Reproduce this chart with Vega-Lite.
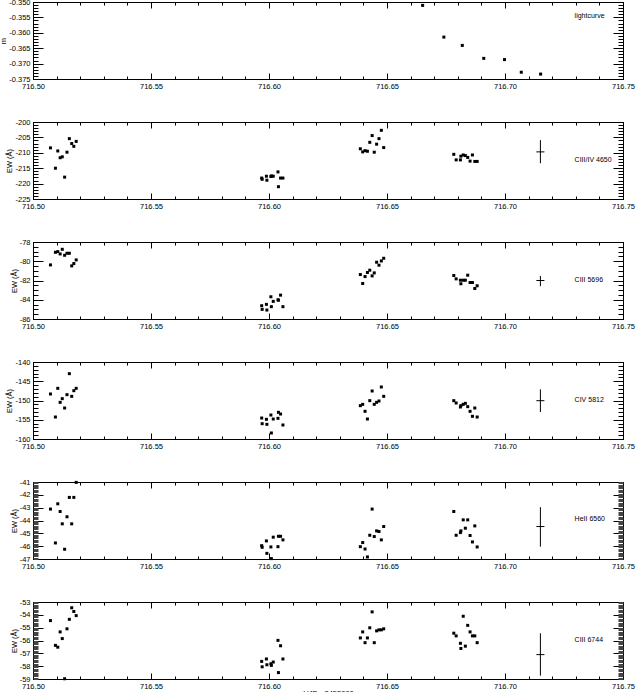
{
"$schema": "https://vega.github.io/schema/vega-lite/v6.json",
"background": "white",
"padding": {"left": -1, "top": -3, "right": 0, "bottom": 0},
"spacing": 43,
"bounds": "flush",
"datasets": {
"pts": [
{"p":1,"t":716.6651,"v":-0.3511},{"p":1,"t":716.6741,"v":-0.3614},{"p":1,"t":716.6819,"v":-0.3641},{"p":1,"t":716.6910,"v":-0.3683},{"p":1,"t":716.6998,"v":-0.3687},{"p":1,"t":716.7069,"v":-0.3728},{"p":1,"t":716.7151,"v":-0.3734},
{"p":2,"t":716.5074,"v":-208.4},{"p":2,"t":716.5095,"v":-215.0},{"p":2,"t":716.5105,"v":-209.4},{"p":2,"t":716.5115,"v":-211.6},{"p":2,"t":716.5124,"v":-211.3},{"p":2,"t":716.5134,"v":-217.9},{"p":2,"t":716.5144,"v":-209.8},{"p":2,"t":716.5154,"v":-205.4},{"p":2,"t":716.5164,"v":-207.0},{"p":2,"t":716.5173,"v":-207.9},{"p":2,"t":716.5183,"v":-206.3},
{"p":2,"t":716.5969,"v":-218.2},{"p":2,"t":716.5971,"v":-218.6},{"p":2,"t":716.5989,"v":-217.6},{"p":2,"t":716.5991,"v":-218.9},{"p":2,"t":716.6008,"v":-217.7},{"p":2,"t":716.6010,"v":-217.5},{"p":2,"t":716.6018,"v":-217.6},{"p":2,"t":716.6038,"v":-216.2},{"p":2,"t":716.6040,"v":-221.0},{"p":2,"t":716.6049,"v":-218.2},{"p":2,"t":716.6059,"v":-218.2},
{"p":2,"t":716.6387,"v":-208.7},{"p":2,"t":716.6397,"v":-209.7},{"p":2,"t":716.6407,"v":-209.3},{"p":2,"t":716.6417,"v":-209.5},{"p":2,"t":716.6427,"v":-206.6},{"p":2,"t":716.6437,"v":-204.4},{"p":2,"t":716.6446,"v":-209.8},{"p":2,"t":716.6456,"v":-207.2},{"p":2,"t":716.6466,"v":-205.4},{"p":2,"t":716.6476,"v":-202.7},{"p":2,"t":716.6486,"v":-208.3},
{"p":2,"t":716.6783,"v":-210.5},{"p":2,"t":716.6793,"v":-212.3},{"p":2,"t":716.6811,"v":-212.3},{"p":2,"t":716.6813,"v":-211.1},{"p":2,"t":716.6823,"v":-210.7},{"p":2,"t":716.6832,"v":-210.9},{"p":2,"t":716.6842,"v":-211.5},{"p":2,"t":716.6852,"v":-212.7},{"p":2,"t":716.6862,"v":-210.7},{"p":2,"t":716.6872,"v":-212.8},{"p":2,"t":716.6882,"v":-212.8},
{"p":3,"t":716.5074,"v":-80.38},{"p":3,"t":716.5095,"v":-79.07},{"p":3,"t":716.5105,"v":-79.0},{"p":3,"t":716.5115,"v":-79.24},{"p":3,"t":716.5124,"v":-78.76},{"p":3,"t":716.5134,"v":-79.38},{"p":3,"t":716.5144,"v":-79.17},{"p":3,"t":716.5154,"v":-79.17},{"p":3,"t":716.5164,"v":-80.48},{"p":3,"t":716.5173,"v":-80.24},{"p":3,"t":716.5183,"v":-79.86},
{"p":3,"t":716.5969,"v":-84.62},{"p":3,"t":716.5971,"v":-85.0},{"p":3,"t":716.5989,"v":-84.48},{"p":3,"t":716.5991,"v":-85.07},{"p":3,"t":716.6008,"v":-83.69},{"p":3,"t":716.6010,"v":-84.72},{"p":3,"t":716.6018,"v":-84.17},{"p":3,"t":716.6038,"v":-84.0},{"p":3,"t":716.6040,"v":-84.05},{"p":3,"t":716.6049,"v":-83.52},{"p":3,"t":716.6059,"v":-84.72},
{"p":3,"t":716.6387,"v":-81.38},{"p":3,"t":716.6397,"v":-82.31},{"p":3,"t":716.6407,"v":-81.59},{"p":3,"t":716.6417,"v":-81.17},{"p":3,"t":716.6427,"v":-80.93},{"p":3,"t":716.6437,"v":-81.52},{"p":3,"t":716.6446,"v":-81.21},{"p":3,"t":716.6456,"v":-80.10},{"p":3,"t":716.6466,"v":-80.41},{"p":3,"t":716.6476,"v":-79.97},{"p":3,"t":716.6486,"v":-79.69},
{"p":3,"t":716.6783,"v":-81.48},{"p":3,"t":716.6793,"v":-81.83},{"p":3,"t":716.6811,"v":-81.97},{"p":3,"t":716.6813,"v":-82.34},{"p":3,"t":716.6823,"v":-81.97},{"p":3,"t":716.6832,"v":-81.97},{"p":3,"t":716.6842,"v":-81.45},{"p":3,"t":716.6852,"v":-82.21},{"p":3,"t":716.6862,"v":-82.21},{"p":3,"t":716.6872,"v":-82.83},{"p":3,"t":716.6882,"v":-82.55},
{"p":4,"t":716.5074,"v":-148.31},{"p":4,"t":716.5095,"v":-154.29},{"p":4,"t":716.5105,"v":-146.84},{"p":4,"t":716.5115,"v":-150.48},{"p":4,"t":716.5124,"v":-149.52},{"p":4,"t":716.5134,"v":-151.95},{"p":4,"t":716.5144,"v":-148.48},{"p":4,"t":716.5154,"v":-143.03},{"p":4,"t":716.5164,"v":-148.92},{"p":4,"t":716.5173,"v":-147.45},{"p":4,"t":716.5183,"v":-146.84},
{"p":4,"t":716.5969,"v":-154.55},{"p":4,"t":716.5971,"v":-156.02},{"p":4,"t":716.5989,"v":-154.89},{"p":4,"t":716.5991,"v":-156.19},{"p":4,"t":716.6008,"v":-153.77},{"p":4,"t":716.6010,"v":-158.44},{"p":4,"t":716.6018,"v":-154.81},{"p":4,"t":716.6038,"v":-154.63},{"p":4,"t":716.6040,"v":-153.07},{"p":4,"t":716.6049,"v":-153.51},{"p":4,"t":716.6059,"v":-156.36},
{"p":4,"t":716.6387,"v":-151.34},{"p":4,"t":716.6397,"v":-151.0},{"p":4,"t":716.6407,"v":-152.81},{"p":4,"t":716.6417,"v":-154.81},{"p":4,"t":716.6427,"v":-150.04},{"p":4,"t":716.6437,"v":-147.53},{"p":4,"t":716.6446,"v":-151.0},{"p":4,"t":716.6456,"v":-150.48},{"p":4,"t":716.6466,"v":-150.13},{"p":4,"t":716.6476,"v":-146.49},{"p":4,"t":716.6486,"v":-148.92},
{"p":4,"t":716.6783,"v":-150.04},{"p":4,"t":716.6793,"v":-150.65},{"p":4,"t":716.6811,"v":-151.69},{"p":4,"t":716.6813,"v":-151.34},{"p":4,"t":716.6823,"v":-151.0},{"p":4,"t":716.6832,"v":-150.74},{"p":4,"t":716.6842,"v":-151.6},{"p":4,"t":716.6852,"v":-152.81},{"p":4,"t":716.6862,"v":-154.11},{"p":4,"t":716.6872,"v":-151.95},{"p":4,"t":716.6882,"v":-154.29},
{"p":5,"t":716.5074,"v":-43.11},{"p":5,"t":716.5095,"v":-45.75},{"p":5,"t":716.5105,"v":-42.70},{"p":5,"t":716.5115,"v":-43.30},{"p":5,"t":716.5124,"v":-44.26},{"p":5,"t":716.5134,"v":-46.24},{"p":5,"t":716.5144,"v":-43.71},{"p":5,"t":716.5154,"v":-42.20},{"p":5,"t":716.5164,"v":-44.26},{"p":5,"t":716.5173,"v":-42.20},{"p":5,"t":716.5183,"v":-41.03},
{"p":5,"t":716.5969,"v":-45.96},{"p":5,"t":716.5971,"v":-46.09},{"p":5,"t":716.5989,"v":-45.59},{"p":5,"t":716.5991,"v":-46.56},{"p":5,"t":716.6008,"v":-46.06},{"p":5,"t":716.6010,"v":-46.97},{"p":5,"t":716.6018,"v":-45.30},{"p":5,"t":716.6038,"v":-46.04},{"p":5,"t":716.6040,"v":-45.23},{"p":5,"t":716.6049,"v":-45.23},{"p":5,"t":716.6059,"v":-45.51},
{"p":5,"t":716.6387,"v":-46.04},{"p":5,"t":716.6397,"v":-45.72},{"p":5,"t":716.6407,"v":-46.22},{"p":5,"t":716.6417,"v":-46.84},{"p":5,"t":716.6427,"v":-45.15},{"p":5,"t":716.6437,"v":-43.11},{"p":5,"t":716.6446,"v":-45.25},{"p":5,"t":716.6456,"v":-44.81},{"p":5,"t":716.6466,"v":-44.86},{"p":5,"t":716.6476,"v":-45.51},{"p":5,"t":716.6486,"v":-44.47},
{"p":5,"t":716.6783,"v":-43.30},{"p":5,"t":716.6793,"v":-45.15},{"p":5,"t":716.6811,"v":-44.94},{"p":5,"t":716.6813,"v":-44.81},{"p":5,"t":716.6823,"v":-43.95},{"p":5,"t":716.6832,"v":-44.60},{"p":5,"t":716.6842,"v":-43.95},{"p":5,"t":716.6852,"v":-45.17},{"p":5,"t":716.6862,"v":-45.67},{"p":5,"t":716.6872,"v":-44.42},{"p":5,"t":716.6882,"v":-46.06},
{"p":6,"t":716.5074,"v":-54.45},{"p":6,"t":716.5095,"v":-56.38},{"p":6,"t":716.5105,"v":-56.52},{"p":6,"t":716.5115,"v":-55.33},{"p":6,"t":716.5124,"v":-55.85},{"p":6,"t":716.5134,"v":-58.98},{"p":6,"t":716.5144,"v":-55.09},{"p":6,"t":716.5154,"v":-54.35},{"p":6,"t":716.5164,"v":-53.45},{"p":6,"t":716.5173,"v":-53.74},{"p":6,"t":716.5183,"v":-54.06},
{"p":6,"t":716.5969,"v":-57.63},{"p":6,"t":716.5971,"v":-58.05},{"p":6,"t":716.5989,"v":-57.44},{"p":6,"t":716.5991,"v":-57.89},{"p":6,"t":716.6008,"v":-57.81},{"p":6,"t":716.6010,"v":-57.94},{"p":6,"t":716.6018,"v":-57.68},{"p":6,"t":716.6038,"v":-55.99},{"p":6,"t":716.6040,"v":-58.50},{"p":6,"t":716.6049,"v":-56.41},{"p":6,"t":716.6059,"v":-57.44},
{"p":6,"t":716.6387,"v":-55.80},{"p":6,"t":716.6397,"v":-55.33},{"p":6,"t":716.6407,"v":-56.17},{"p":6,"t":716.6417,"v":-55.80},{"p":6,"t":716.6427,"v":-55.01},{"p":6,"t":716.6437,"v":-53.77},{"p":6,"t":716.6446,"v":-56.17},{"p":6,"t":716.6456,"v":-55.25},{"p":6,"t":716.6466,"v":-55.17},{"p":6,"t":716.6476,"v":-55.17},{"p":6,"t":716.6486,"v":-55.09},
{"p":6,"t":716.6783,"v":-55.43},{"p":6,"t":716.6793,"v":-55.64},{"p":6,"t":716.6811,"v":-56.22},{"p":6,"t":716.6813,"v":-56.62},{"p":6,"t":716.6823,"v":-54.11},{"p":6,"t":716.6832,"v":-56.44},{"p":6,"t":716.6842,"v":-54.82},{"p":6,"t":716.6852,"v":-55.33},{"p":6,"t":716.6862,"v":-55.64},{"p":6,"t":716.6872,"v":-55.64},{"p":6,"t":716.6882,"v":-56.17}
],
"err": [
{"p":2,"t":716.715,"v":-209.7,"lo":-213.4,"hi":-205.9,"tlo":716.7133,"thi":716.7167},
{"p":3,"t":716.715,"v":-82.0,"lo":-82.59,"hi":-81.52,"tlo":716.7133,"thi":716.7167},
{"p":4,"t":716.715,"v":-150.05,"lo":-153.0,"hi":-147.1,"tlo":716.7133,"thi":716.7167},
{"p":5,"t":716.715,"v":-44.47,"lo":-46.04,"hi":-42.96,"tlo":716.7133,"thi":716.7167},
{"p":6,"t":716.715,"v":-57.1,"lo":-58.74,"hi":-55.44,"tlo":716.7133,"thi":716.7167}
],
"lab": [
{"p":1,"t":716.7295,"v":-0.3545,"s":"lightcurve"},
{"p":2,"t":716.7295,"v":-212.2,"s":"CIII/IV 4650"},
{"p":3,"t":716.7295,"v":-81.96,"s":"CIII 5696"},
{"p":4,"t":716.7295,"v":-149.8,"s":"CIV 5812"},
{"p":5,"t":716.7295,"v":-43.9,"s":"HeII 6560"},
{"p":6,"t":716.7295,"v":-55.96,"s":"CIII 6744"}
]
},
"vconcat": [
{"width":590,"height":77,"resolve":{"axis":{"x":"independent","y":"independent"}},"layer":[
{"data":{"name":"pts"},"transform":[{"filter":"datum.p == 1"}],"mark":{"type":"square","size":9,"color":"black","filled":true,"opacity":1},
"encoding":{"x":{"field":"t","type":"quantitative","scale":{"domain":[716.5,716.75],"nice":false,"zero":false},"axis":{"orient":"bottom","values":[716.5,716.55,716.6,716.65,716.7,716.75],"format":".2f","tickSize":-6,"labelPadding":9,"title":null,"labelFlush":false,"labelOverlap":false}},
"y":{"field":"v","type":"quantitative","scale":{"domain":[-0.375,-0.35],"nice":false,"zero":false},"axis":{"orient":"left","values":[-0.375,-0.37,-0.365,-0.36,-0.355,-0.35],"format":".3f","tickSize":-10,"labelPadding":13,"title":"m","titlePadding":1,"labelOverlap":false}}}},
{"data":{"name":"err"},"transform":[{"filter":"datum.p == 1"}],"mark":{"type":"rule","color":"black","strokeWidth":1},
"encoding":{"x":{"field":"t","type":"quantitative","scale":{"domain":[716.5,716.75],"nice":false,"zero":false},"axis":{"orient":"top","values":[716.5,716.55,716.6,716.65,716.7,716.75],"labels":false,"tickSize":-6,"title":null}},
"y":{"field":"lo","type":"quantitative","scale":{"domain":[-0.375,-0.35],"nice":false,"zero":false},"axis":{"orient":"right","values":[-0.375,-0.37,-0.365,-0.36,-0.355,-0.35],"labels":false,"tickSize":-10,"title":null}},"y2":{"field":"hi"}}},
{"data":{"name":"err"},"transform":[{"filter":"datum.p == 1"}],"mark":{"type":"rule","color":"black","strokeWidth":1},
"encoding":{"x":{"field":"tlo","type":"quantitative","scale":{"domain":[716.5,716.75],"nice":false,"zero":false},"axis":{"orient":"bottom","values":[716.5,716.51,716.52,716.53,716.54,716.55,716.56,716.57,716.58,716.59,716.6,716.61,716.62,716.63,716.64,716.65,716.66,716.67,716.68,716.69,716.7,716.71,716.72,716.73,716.74,716.75],"labels":false,"domain":false,"tickSize":-3,"title":null}},"x2":{"field":"thi"},
"y":{"field":"v","type":"quantitative","scale":{"domain":[-0.375,-0.35],"nice":false,"zero":false},"axis":{"orient":"left","values":[-0.375,-0.374,-0.373,-0.372,-0.371,-0.37,-0.369,-0.368,-0.367,-0.366,-0.365,-0.364,-0.363,-0.362,-0.361,-0.36,-0.359,-0.358,-0.357,-0.356,-0.355,-0.354,-0.353,-0.352,-0.351,-0.35],"labels":false,"domain":false,"tickSize":-5,"title":null}}}},
{"data":{"name":"lab"},"transform":[{"filter":"datum.p == 1"}],"mark":{"type":"text","align":"left","baseline":"middle","fontSize":7,"font":"Liberation Sans","color":"black"},
"encoding":{"text":{"field":"s"},"x":{"field":"t","type":"quantitative","scale":{"domain":[716.5,716.75],"nice":false,"zero":false},"axis":{"orient":"top","values":[716.5,716.51,716.52,716.53,716.54,716.55,716.56,716.57,716.58,716.59,716.6,716.61,716.62,716.63,716.64,716.65,716.66,716.67,716.68,716.69,716.7,716.71,716.72,716.73,716.74,716.75],"labels":false,"domain":false,"tickSize":-3,"title":null}},
"y":{"field":"v","type":"quantitative","scale":{"domain":[-0.375,-0.35],"nice":false,"zero":false},"axis":{"orient":"right","values":[-0.375,-0.374,-0.373,-0.372,-0.371,-0.37,-0.369,-0.368,-0.367,-0.366,-0.365,-0.364,-0.363,-0.362,-0.361,-0.36,-0.359,-0.358,-0.357,-0.356,-0.355,-0.354,-0.353,-0.352,-0.351,-0.35],"labels":false,"domain":false,"tickSize":-5,"title":null}}}}
]},
{"width":590,"height":77,"resolve":{"axis":{"x":"independent","y":"independent"}},"layer":[
{"data":{"name":"pts"},"transform":[{"filter":"datum.p == 2"}],"mark":{"type":"square","size":9,"color":"black","filled":true,"opacity":1},
"encoding":{"x":{"field":"t","type":"quantitative","scale":{"domain":[716.5,716.75],"nice":false,"zero":false},"axis":{"orient":"bottom","values":[716.5,716.55,716.6,716.65,716.7,716.75],"format":".2f","tickSize":-6,"labelPadding":9,"title":null,"labelFlush":false,"labelOverlap":false}},
"y":{"field":"v","type":"quantitative","scale":{"domain":[-225,-200],"nice":false,"zero":false},"axis":{"orient":"left","values":[-225,-220,-215,-210,-205,-200],"format":"d","tickSize":-10,"labelPadding":13,"title":"EW (Å)","titlePadding":1,"labelOverlap":false}}}},
{"data":{"name":"err"},"transform":[{"filter":"datum.p == 2"}],"mark":{"type":"rule","color":"black","strokeWidth":1},
"encoding":{"x":{"field":"t","type":"quantitative","scale":{"domain":[716.5,716.75],"nice":false,"zero":false},"axis":{"orient":"top","values":[716.5,716.55,716.6,716.65,716.7,716.75],"labels":false,"tickSize":-6,"title":null}},
"y":{"field":"lo","type":"quantitative","scale":{"domain":[-225,-200],"nice":false,"zero":false},"axis":{"orient":"right","values":[-225,-220,-215,-210,-205,-200],"labels":false,"tickSize":-10,"title":null}},"y2":{"field":"hi"}}},
{"data":{"name":"err"},"transform":[{"filter":"datum.p == 2"}],"mark":{"type":"rule","color":"black","strokeWidth":1},
"encoding":{"x":{"field":"tlo","type":"quantitative","scale":{"domain":[716.5,716.75],"nice":false,"zero":false},"axis":{"orient":"bottom","values":[716.5,716.51,716.52,716.53,716.54,716.55,716.56,716.57,716.58,716.59,716.6,716.61,716.62,716.63,716.64,716.65,716.66,716.67,716.68,716.69,716.7,716.71,716.72,716.73,716.74,716.75],"labels":false,"domain":false,"tickSize":-3,"title":null}},"x2":{"field":"thi"},
"y":{"field":"v","type":"quantitative","scale":{"domain":[-225,-200],"nice":false,"zero":false},"axis":{"orient":"left","values":[-225,-224,-223,-222,-221,-220,-219,-218,-217,-216,-215,-214,-213,-212,-211,-210,-209,-208,-207,-206,-205,-204,-203,-202,-201,-200],"labels":false,"domain":false,"tickSize":-5,"title":null}}}},
{"data":{"name":"lab"},"transform":[{"filter":"datum.p == 2"}],"mark":{"type":"text","align":"left","baseline":"middle","fontSize":7,"font":"Liberation Sans","color":"black"},
"encoding":{"text":{"field":"s"},"x":{"field":"t","type":"quantitative","scale":{"domain":[716.5,716.75],"nice":false,"zero":false},"axis":{"orient":"top","values":[716.5,716.51,716.52,716.53,716.54,716.55,716.56,716.57,716.58,716.59,716.6,716.61,716.62,716.63,716.64,716.65,716.66,716.67,716.68,716.69,716.7,716.71,716.72,716.73,716.74,716.75],"labels":false,"domain":false,"tickSize":-3,"title":null}},
"y":{"field":"v","type":"quantitative","scale":{"domain":[-225,-200],"nice":false,"zero":false},"axis":{"orient":"right","values":[-225,-224,-223,-222,-221,-220,-219,-218,-217,-216,-215,-214,-213,-212,-211,-210,-209,-208,-207,-206,-205,-204,-203,-202,-201,-200],"labels":false,"domain":false,"tickSize":-5,"title":null}}}}
]},
{"width":590,"height":77,"resolve":{"axis":{"x":"independent","y":"independent"}},"layer":[
{"data":{"name":"pts"},"transform":[{"filter":"datum.p == 3"}],"mark":{"type":"square","size":9,"color":"black","filled":true,"opacity":1},
"encoding":{"x":{"field":"t","type":"quantitative","scale":{"domain":[716.5,716.75],"nice":false,"zero":false},"axis":{"orient":"bottom","values":[716.5,716.55,716.6,716.65,716.7,716.75],"format":".2f","tickSize":-6,"labelPadding":9,"title":null,"labelFlush":false,"labelOverlap":false}},
"y":{"field":"v","type":"quantitative","scale":{"domain":[-86,-78],"nice":false,"zero":false},"axis":{"orient":"left","values":[-86,-84,-82,-80,-78],"format":"d","tickSize":-10,"labelPadding":13,"title":"EW (Å)","titlePadding":1,"labelOverlap":false}}}},
{"data":{"name":"err"},"transform":[{"filter":"datum.p == 3"}],"mark":{"type":"rule","color":"black","strokeWidth":1},
"encoding":{"x":{"field":"t","type":"quantitative","scale":{"domain":[716.5,716.75],"nice":false,"zero":false},"axis":{"orient":"top","values":[716.5,716.55,716.6,716.65,716.7,716.75],"labels":false,"tickSize":-6,"title":null}},
"y":{"field":"lo","type":"quantitative","scale":{"domain":[-86,-78],"nice":false,"zero":false},"axis":{"orient":"right","values":[-86,-84,-82,-80,-78],"labels":false,"tickSize":-10,"title":null}},"y2":{"field":"hi"}}},
{"data":{"name":"err"},"transform":[{"filter":"datum.p == 3"}],"mark":{"type":"rule","color":"black","strokeWidth":1},
"encoding":{"x":{"field":"tlo","type":"quantitative","scale":{"domain":[716.5,716.75],"nice":false,"zero":false},"axis":{"orient":"bottom","values":[716.5,716.51,716.52,716.53,716.54,716.55,716.56,716.57,716.58,716.59,716.6,716.61,716.62,716.63,716.64,716.65,716.66,716.67,716.68,716.69,716.7,716.71,716.72,716.73,716.74,716.75],"labels":false,"domain":false,"tickSize":-3,"title":null}},"x2":{"field":"thi"},
"y":{"field":"v","type":"quantitative","scale":{"domain":[-86,-78],"nice":false,"zero":false},"axis":{"orient":"left","values":[-86,-85.5,-85,-84.5,-84,-83.5,-83,-82.5,-82,-81.5,-81,-80.5,-80,-79.5,-79,-78.5,-78],"labels":false,"domain":false,"tickSize":-5,"title":null}}}},
{"data":{"name":"lab"},"transform":[{"filter":"datum.p == 3"}],"mark":{"type":"text","align":"left","baseline":"middle","fontSize":7,"font":"Liberation Sans","color":"black"},
"encoding":{"text":{"field":"s"},"x":{"field":"t","type":"quantitative","scale":{"domain":[716.5,716.75],"nice":false,"zero":false},"axis":{"orient":"top","values":[716.5,716.51,716.52,716.53,716.54,716.55,716.56,716.57,716.58,716.59,716.6,716.61,716.62,716.63,716.64,716.65,716.66,716.67,716.68,716.69,716.7,716.71,716.72,716.73,716.74,716.75],"labels":false,"domain":false,"tickSize":-3,"title":null}},
"y":{"field":"v","type":"quantitative","scale":{"domain":[-86,-78],"nice":false,"zero":false},"axis":{"orient":"right","values":[-86,-85.5,-85,-84.5,-84,-83.5,-83,-82.5,-82,-81.5,-81,-80.5,-80,-79.5,-79,-78.5,-78],"labels":false,"domain":false,"tickSize":-5,"title":null}}}}
]},
{"width":590,"height":77,"resolve":{"axis":{"x":"independent","y":"independent"}},"layer":[
{"data":{"name":"pts"},"transform":[{"filter":"datum.p == 4"}],"mark":{"type":"square","size":9,"color":"black","filled":true,"opacity":1},
"encoding":{"x":{"field":"t","type":"quantitative","scale":{"domain":[716.5,716.75],"nice":false,"zero":false},"axis":{"orient":"bottom","values":[716.5,716.55,716.6,716.65,716.7,716.75],"format":".2f","tickSize":-6,"labelPadding":9,"title":null,"labelFlush":false,"labelOverlap":false}},
"y":{"field":"v","type":"quantitative","scale":{"domain":[-160,-140],"nice":false,"zero":false},"axis":{"orient":"left","values":[-160,-155,-150,-145,-140],"format":"d","tickSize":-10,"labelPadding":13,"title":"EW (Å)","titlePadding":1,"labelOverlap":false}}}},
{"data":{"name":"err"},"transform":[{"filter":"datum.p == 4"}],"mark":{"type":"rule","color":"black","strokeWidth":1},
"encoding":{"x":{"field":"t","type":"quantitative","scale":{"domain":[716.5,716.75],"nice":false,"zero":false},"axis":{"orient":"top","values":[716.5,716.55,716.6,716.65,716.7,716.75],"labels":false,"tickSize":-6,"title":null}},
"y":{"field":"lo","type":"quantitative","scale":{"domain":[-160,-140],"nice":false,"zero":false},"axis":{"orient":"right","values":[-160,-155,-150,-145,-140],"labels":false,"tickSize":-10,"title":null}},"y2":{"field":"hi"}}},
{"data":{"name":"err"},"transform":[{"filter":"datum.p == 4"}],"mark":{"type":"rule","color":"black","strokeWidth":1},
"encoding":{"x":{"field":"tlo","type":"quantitative","scale":{"domain":[716.5,716.75],"nice":false,"zero":false},"axis":{"orient":"bottom","values":[716.5,716.51,716.52,716.53,716.54,716.55,716.56,716.57,716.58,716.59,716.6,716.61,716.62,716.63,716.64,716.65,716.66,716.67,716.68,716.69,716.7,716.71,716.72,716.73,716.74,716.75],"labels":false,"domain":false,"tickSize":-3,"title":null}},"x2":{"field":"thi"},
"y":{"field":"v","type":"quantitative","scale":{"domain":[-160,-140],"nice":false,"zero":false},"axis":{"orient":"left","values":[-160,-159,-158,-157,-156,-155,-154,-153,-152,-151,-150,-149,-148,-147,-146,-145,-144,-143,-142,-141,-140],"labels":false,"domain":false,"tickSize":-5,"title":null}}}},
{"data":{"name":"lab"},"transform":[{"filter":"datum.p == 4"}],"mark":{"type":"text","align":"left","baseline":"middle","fontSize":7,"font":"Liberation Sans","color":"black"},
"encoding":{"text":{"field":"s"},"x":{"field":"t","type":"quantitative","scale":{"domain":[716.5,716.75],"nice":false,"zero":false},"axis":{"orient":"top","values":[716.5,716.51,716.52,716.53,716.54,716.55,716.56,716.57,716.58,716.59,716.6,716.61,716.62,716.63,716.64,716.65,716.66,716.67,716.68,716.69,716.7,716.71,716.72,716.73,716.74,716.75],"labels":false,"domain":false,"tickSize":-3,"title":null}},
"y":{"field":"v","type":"quantitative","scale":{"domain":[-160,-140],"nice":false,"zero":false},"axis":{"orient":"right","values":[-160,-159,-158,-157,-156,-155,-154,-153,-152,-151,-150,-149,-148,-147,-146,-145,-144,-143,-142,-141,-140],"labels":false,"domain":false,"tickSize":-5,"title":null}}}}
]},
{"width":590,"height":77,"resolve":{"axis":{"x":"independent","y":"independent"}},"layer":[
{"data":{"name":"pts"},"transform":[{"filter":"datum.p == 5"}],"mark":{"type":"square","size":9,"color":"black","filled":true,"opacity":1},
"encoding":{"x":{"field":"t","type":"quantitative","scale":{"domain":[716.5,716.75],"nice":false,"zero":false},"axis":{"orient":"bottom","values":[716.5,716.55,716.6,716.65,716.7,716.75],"format":".2f","tickSize":-6,"labelPadding":9,"title":null,"labelFlush":false,"labelOverlap":false}},
"y":{"field":"v","type":"quantitative","scale":{"domain":[-47,-41],"nice":false,"zero":false},"axis":{"orient":"left","values":[-47,-46,-45,-44,-43,-42,-41],"format":"d","tickSize":-10,"labelPadding":13,"title":"EW (Å)","titlePadding":1,"labelOverlap":false}}}},
{"data":{"name":"err"},"transform":[{"filter":"datum.p == 5"}],"mark":{"type":"rule","color":"black","strokeWidth":1},
"encoding":{"x":{"field":"t","type":"quantitative","scale":{"domain":[716.5,716.75],"nice":false,"zero":false},"axis":{"orient":"top","values":[716.5,716.55,716.6,716.65,716.7,716.75],"labels":false,"tickSize":-6,"title":null}},
"y":{"field":"lo","type":"quantitative","scale":{"domain":[-47,-41],"nice":false,"zero":false},"axis":{"orient":"right","values":[-47,-46,-45,-44,-43,-42,-41],"labels":false,"tickSize":-10,"title":null}},"y2":{"field":"hi"}}},
{"data":{"name":"err"},"transform":[{"filter":"datum.p == 5"}],"mark":{"type":"rule","color":"black","strokeWidth":1},
"encoding":{"x":{"field":"tlo","type":"quantitative","scale":{"domain":[716.5,716.75],"nice":false,"zero":false},"axis":{"orient":"bottom","values":[716.5,716.51,716.52,716.53,716.54,716.55,716.56,716.57,716.58,716.59,716.6,716.61,716.62,716.63,716.64,716.65,716.66,716.67,716.68,716.69,716.7,716.71,716.72,716.73,716.74,716.75],"labels":false,"domain":false,"tickSize":-3,"title":null}},"x2":{"field":"thi"},
"y":{"field":"v","type":"quantitative","scale":{"domain":[-47,-41],"nice":false,"zero":false},"axis":{"orient":"left","values":[-47,-46.9,-46.8,-46.7,-46.6,-46.5,-46.4,-46.3,-46.2,-46.1,-46,-45.9,-45.8,-45.7,-45.6,-45.5,-45.4,-45.3,-45.2,-45.1,-45,-44.9,-44.8,-44.7,-44.6,-44.5,-44.4,-44.3,-44.2,-44.1,-44,-43.9,-43.8,-43.7,-43.6,-43.5,-43.4,-43.3,-43.2,-43.1,-43,-42.9,-42.8,-42.7,-42.6,-42.5,-42.4,-42.3,-42.2,-42.1,-42,-41.9,-41.8,-41.7,-41.6,-41.5,-41.4,-41.3,-41.2,-41.1,-41],"labels":false,"domain":false,"tickSize":-5,"tickColor":"#444444","title":null}}}},
{"data":{"name":"lab"},"transform":[{"filter":"datum.p == 5"}],"mark":{"type":"text","align":"left","baseline":"middle","fontSize":7,"font":"Liberation Sans","color":"black"},
"encoding":{"text":{"field":"s"},"x":{"field":"t","type":"quantitative","scale":{"domain":[716.5,716.75],"nice":false,"zero":false},"axis":{"orient":"top","values":[716.5,716.51,716.52,716.53,716.54,716.55,716.56,716.57,716.58,716.59,716.6,716.61,716.62,716.63,716.64,716.65,716.66,716.67,716.68,716.69,716.7,716.71,716.72,716.73,716.74,716.75],"labels":false,"domain":false,"tickSize":-3,"title":null}},
"y":{"field":"v","type":"quantitative","scale":{"domain":[-47,-41],"nice":false,"zero":false},"axis":{"orient":"right","values":[-47,-46.9,-46.8,-46.7,-46.6,-46.5,-46.4,-46.3,-46.2,-46.1,-46,-45.9,-45.8,-45.7,-45.6,-45.5,-45.4,-45.3,-45.2,-45.1,-45,-44.9,-44.8,-44.7,-44.6,-44.5,-44.4,-44.3,-44.2,-44.1,-44,-43.9,-43.8,-43.7,-43.6,-43.5,-43.4,-43.3,-43.2,-43.1,-43,-42.9,-42.8,-42.7,-42.6,-42.5,-42.4,-42.3,-42.2,-42.1,-42,-41.9,-41.8,-41.7,-41.6,-41.5,-41.4,-41.3,-41.2,-41.1,-41],"labels":false,"domain":false,"tickSize":-5,"tickColor":"#444444","title":null}}}}
]},
{"width":590,"height":77,"resolve":{"axis":{"x":"independent","y":"independent"}},"layer":[
{"data":{"name":"pts"},"transform":[{"filter":"datum.p == 6"}],"mark":{"type":"square","size":9,"color":"black","filled":true,"opacity":1},
"encoding":{"x":{"field":"t","type":"quantitative","scale":{"domain":[716.5,716.75],"nice":false,"zero":false},"axis":{"orient":"bottom","values":[716.5,716.55,716.6,716.65,716.7,716.75],"format":".2f","tickSize":-6,"labelPadding":9,"title":"HJD - 2452000","titlePadding":0,"labelFlush":false,"labelOverlap":false}},
"y":{"field":"v","type":"quantitative","scale":{"domain":[-59,-53],"nice":false,"zero":false},"axis":{"orient":"left","values":[-59,-58,-57,-56,-55,-54,-53],"format":"d","tickSize":-10,"labelPadding":13,"title":"EW (Å)","titlePadding":1,"labelOverlap":false}}}},
{"data":{"name":"err"},"transform":[{"filter":"datum.p == 6"}],"mark":{"type":"rule","color":"black","strokeWidth":1},
"encoding":{"x":{"field":"t","type":"quantitative","scale":{"domain":[716.5,716.75],"nice":false,"zero":false},"axis":{"orient":"top","values":[716.5,716.55,716.6,716.65,716.7,716.75],"labels":false,"tickSize":-6,"title":null}},
"y":{"field":"lo","type":"quantitative","scale":{"domain":[-59,-53],"nice":false,"zero":false},"axis":{"orient":"right","values":[-59,-58,-57,-56,-55,-54,-53],"labels":false,"tickSize":-10,"title":null}},"y2":{"field":"hi"}}},
{"data":{"name":"err"},"transform":[{"filter":"datum.p == 6"}],"mark":{"type":"rule","color":"black","strokeWidth":1},
"encoding":{"x":{"field":"tlo","type":"quantitative","scale":{"domain":[716.5,716.75],"nice":false,"zero":false},"axis":{"orient":"bottom","values":[716.5,716.51,716.52,716.53,716.54,716.55,716.56,716.57,716.58,716.59,716.6,716.61,716.62,716.63,716.64,716.65,716.66,716.67,716.68,716.69,716.7,716.71,716.72,716.73,716.74,716.75],"labels":false,"domain":false,"tickSize":-3,"title":null}},"x2":{"field":"thi"},
"y":{"field":"v","type":"quantitative","scale":{"domain":[-59,-53],"nice":false,"zero":false},"axis":{"orient":"left","values":[-59,-58.9,-58.8,-58.7,-58.6,-58.5,-58.4,-58.3,-58.2,-58.1,-58,-57.9,-57.8,-57.7,-57.6,-57.5,-57.4,-57.3,-57.2,-57.1,-57,-56.9,-56.8,-56.7,-56.6,-56.5,-56.4,-56.3,-56.2,-56.1,-56,-55.9,-55.8,-55.7,-55.6,-55.5,-55.4,-55.3,-55.2,-55.1,-55,-54.9,-54.8,-54.7,-54.6,-54.5,-54.4,-54.3,-54.2,-54.1,-54,-53.9,-53.8,-53.7,-53.6,-53.5,-53.4,-53.3,-53.2,-53.1,-53],"labels":false,"domain":false,"tickSize":-5,"tickColor":"#444444","title":null}}}},
{"data":{"name":"lab"},"transform":[{"filter":"datum.p == 6"}],"mark":{"type":"text","align":"left","baseline":"middle","fontSize":7,"font":"Liberation Sans","color":"black"},
"encoding":{"text":{"field":"s"},"x":{"field":"t","type":"quantitative","scale":{"domain":[716.5,716.75],"nice":false,"zero":false},"axis":{"orient":"top","values":[716.5,716.51,716.52,716.53,716.54,716.55,716.56,716.57,716.58,716.59,716.6,716.61,716.62,716.63,716.64,716.65,716.66,716.67,716.68,716.69,716.7,716.71,716.72,716.73,716.74,716.75],"labels":false,"domain":false,"tickSize":-3,"title":null}},
"y":{"field":"v","type":"quantitative","scale":{"domain":[-59,-53],"nice":false,"zero":false},"axis":{"orient":"right","values":[-59,-58.9,-58.8,-58.7,-58.6,-58.5,-58.4,-58.3,-58.2,-58.1,-58,-57.9,-57.8,-57.7,-57.6,-57.5,-57.4,-57.3,-57.2,-57.1,-57,-56.9,-56.8,-56.7,-56.6,-56.5,-56.4,-56.3,-56.2,-56.1,-56,-55.9,-55.8,-55.7,-55.6,-55.5,-55.4,-55.3,-55.2,-55.1,-55,-54.9,-54.8,-54.7,-54.6,-54.5,-54.4,-54.3,-54.2,-54.1,-54,-53.9,-53.8,-53.7,-53.6,-53.5,-53.4,-53.3,-53.2,-53.1,-53],"labels":false,"domain":false,"tickSize":-5,"tickColor":"#444444","title":null}}}}
]}
],
"config": {
"view": {"stroke": "black", "strokeWidth": 1},
"axis": {"labelFont": "Liberation Sans", "labelFontSize": 7.5, "labelColor": "black", "titleFont": "Liberation Sans", "titleFontSize": 7.5, "titleFontWeight": "normal", "titleColor": "black", "domainColor": "black", "tickColor": "black", "grid": false, "domainWidth": 1, "tickWidth": 1},
"locale": {"number": {"decimal": ".", "thousands": ",", "grouping": [3], "currency": ["$", ""], "minus": "-"}}
}
}
